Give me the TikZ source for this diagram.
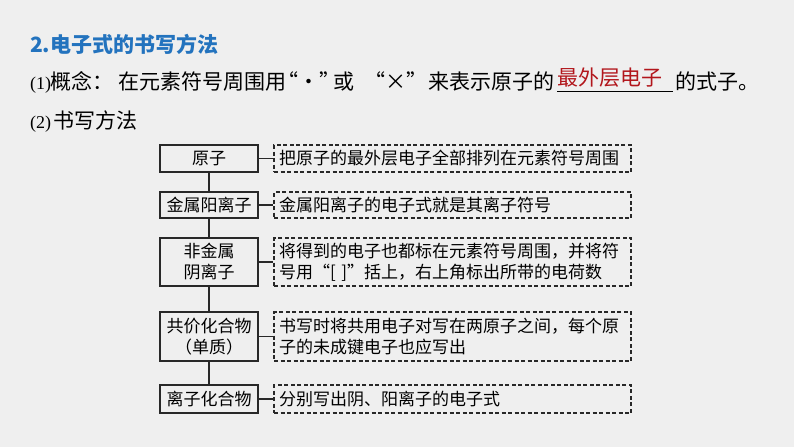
\documentclass[tikz,border=0pt]{standalone}
\usepackage{fontspec}
\setmainfont{Noto Sans CJK SC}
\newfontfamily\tnr{Liberation Serif}
\definecolor{bgc}{RGB}{239,239,239}
\definecolor{ttl}{RGB}{35,115,190}
\definecolor{ans}{RGB}{178,22,28}
\definecolor{ink}{RGB}{40,40,40}
\begin{document}
\begin{tikzpicture}[x=1pt,y=-1pt,
  lbox/.style={draw=ink, line width=1.1pt, minimum width=98pt, inner sep=0pt, align=center, font=\fontsize{17}{21}\selectfont, text=black},
  rbox/.style={draw=ink, line width=1.1pt, dash pattern=on 4pt off 2.5pt, minimum width=357pt, text width=347pt, inner xsep=5pt, inner ysep=0pt, align=left, font=\fontsize{17}{21}\selectfont, text=black},
  link/.style={draw=ink, line width=1.1pt},
  bigtxt/.style={anchor=base west, inner sep=0pt, font=\fontsize{21}{25}\selectfont, text=black},
  paren/.style={anchor=base west, inner sep=0pt, font=\tnr\fontsize{18}{22}\selectfont, text=black}]
\fill[bgc] (0,0) rectangle (794,447);
\useasboundingbox (0,0) rectangle (794,447);
% title
\node[bigtxt, text=ttl, font=\bfseries\fontsize{21}{25}\selectfont] (title) at (30,52) {2.电子式的书写方法};
% line 1
\node[paren] (p1) at (30,89) {(1)};
\node[bigtxt] (l1a) at (50,89) {概念：};
\node[bigtxt] (l1b) at (118,89) {在元素符号周围用};
\node[bigtxt, anchor=base] (l1c) at (309,89) {“·”};
\node[bigtxt] (l1d) at (333,89) {或};
\node[bigtxt, anchor=base] (l1e) at (396,89) {“×”};
\node[bigtxt] (l1f) at (428,89) {来表示原子的};
\node[bigtxt, text=ans] (ans) at (557,85) {最外层电子};
\coordinate (u1) at (557,91);
\coordinate (u2) at (673,91);
\draw[line width=1pt, black] (u1) -- (u2);
\node[bigtxt] (l1g) at (675,89) {的式子。};
% line 2
\node[paren] (p2) at (30,128) {(2)};
\node[bigtxt] (l2) at (53,128) {书写方法};
% left boxes
\node[lbox, minimum height=27pt] (a1) at (209,158.5) {原子};
\node[lbox, minimum height=26pt] (a2) at (209,205) {金属阳离子};
\node[lbox, minimum height=48pt] (a3) at (209,262) {非金属\\阴离子};
\node[lbox, minimum height=49pt] (a4) at (209,336.5) {共价化合物\\（单质）};
\node[lbox, minimum height=28pt] (a5) at (209,399) {离子化合物};
% right boxes
\node[rbox, minimum height=27pt] (b1) at (452.5,158.5) {把原子的最外层电子全部排列在元素符号周围};
\node[rbox, minimum height=26pt] (b2) at (452.5,205) {金属阳离子的电子式就是其离子符号};
\node[rbox, minimum height=48pt] (b3) at (452.5,262) {将得到的电子也都标在元素符号周围，并将符\\号用“[ ]”括上，右上角标出所带的电荷数};
\node[rbox, minimum height=49pt] (b4) at (452.5,336.5) {书写时将共用电子对写在两原子之间，每个原\\子的未成键电子也应写出};
\node[rbox, minimum height=28pt] (b5) at (452.5,399) {分别写出阴、阳离子的电子式};
% connectors
\draw[link] (a1) -- (a2);
\draw[link] (a2) -- (a3);
\draw[link] (a3) -- (a4);
\draw[link] (a4) -- (a5);
\draw[link] (a1.east) -- (b1.west);
\draw[link] (a2.east) -- (b2.west);
\draw[link] (a3.east) -- (b3.west);
\draw[link] (a4.east) -- (b4.west);
\draw[link] (a5.east) -- (b5.west);
\end{tikzpicture}
\end{document}
